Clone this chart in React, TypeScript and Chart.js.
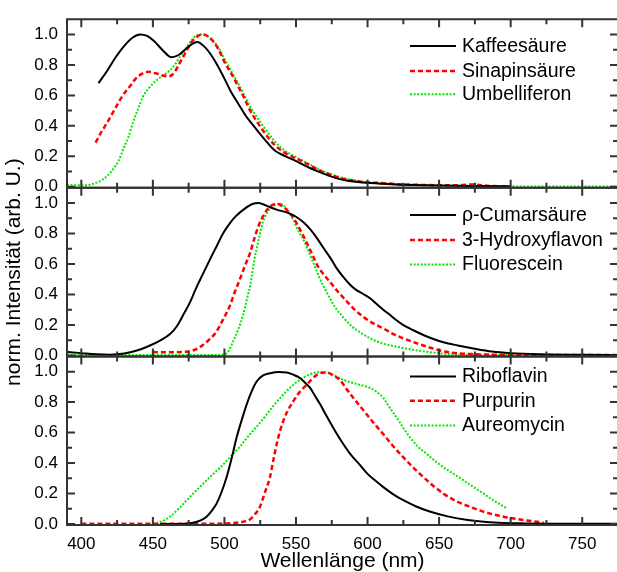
import React, { useEffect, useRef } from 'react';
import { Chart, registerables } from 'chart.js';

Chart.register(...registerables);

const FONT = "'Liberation Sans', Arial, Helvetica, sans-serif";

// ---------- axis ticks ----------
const xTickValues = [400, 450, 500, 550, 600, 650, 700, 750];
const xMinorValues = [425, 475, 525, 575, 625, 675, 725];
const yTickValues = [0, 0.2, 0.4, 0.6, 0.8, 1.0];
const yMinorValues = [0.1, 0.3, 0.5, 0.7, 0.9];
const xTitle = 'Wellenlänge (nm)';
const yTitle = 'norm. Intensität (arb. U.)';

// ---------- panel 1 ----------
const kaffeeX = [412, 418, 424, 430, 436, 441, 446, 451, 457, 463, 468, 473, 477, 481, 486, 490, 495, 500, 504, 510, 515, 520, 525, 530, 535, 540, 548, 555, 560, 567, 574, 580, 586, 593, 600, 610, 620, 640, 660, 680, 700];
const kaffeeY = [0.68, 0.76, 0.85, 0.925, 0.98, 1.0, 0.99, 0.955, 0.895, 0.85, 0.865, 0.905, 0.935, 0.95, 0.92, 0.875, 0.8, 0.71, 0.634, 0.54, 0.465, 0.405, 0.345, 0.29, 0.24, 0.212, 0.178, 0.145, 0.122, 0.095, 0.07, 0.052, 0.04, 0.032, 0.026, 0.02, 0.015, 0.01, 0.007, 0.005, 0.003];

const sinapX = [410, 414, 418, 424, 429, 434, 438, 442, 447, 452, 457, 461, 465, 468, 471, 474, 477, 481, 484, 488, 492, 496, 500, 505, 509, 514, 518, 524, 530, 535, 541, 548, 555, 560, 567, 574, 582, 590, 600, 610, 620, 640, 660, 673, 685, 700];
const sinapY = [0.29, 0.36, 0.42, 0.52, 0.6, 0.66, 0.71, 0.74, 0.755, 0.745, 0.73, 0.725, 0.75, 0.8, 0.85, 0.9, 0.95, 0.985, 1.0, 0.99, 0.955, 0.9, 0.82, 0.74, 0.67, 0.58, 0.5, 0.41, 0.33, 0.275, 0.23, 0.195, 0.165, 0.14, 0.105, 0.08, 0.055, 0.04, 0.028, 0.025, 0.017, 0.012, 0.01, 0.015, 0.006, 0.003];

const umbX = [390, 395, 400, 405, 410, 415, 419, 422, 426, 429, 433, 436, 440, 443, 447, 452, 457, 462, 466, 469, 473, 476, 480, 484, 488, 492, 496, 500, 505, 509, 514, 519, 524, 530, 535, 541, 548, 555, 560, 567, 574, 582, 590, 600, 620, 640, 660, 680, 700, 720, 750, 775];
const umbY = [0.015, 0.01, 0.01, 0.012, 0.025, 0.048, 0.08, 0.113, 0.17, 0.24, 0.33, 0.42, 0.52, 0.59, 0.645, 0.695, 0.73, 0.765, 0.81, 0.855, 0.905, 0.95, 0.99, 1.0, 0.99, 0.96, 0.91, 0.84, 0.755, 0.69, 0.6, 0.51, 0.44, 0.36, 0.3, 0.245, 0.205, 0.17, 0.145, 0.11, 0.085, 0.06, 0.045, 0.03, 0.018, 0.012, 0.008, 0.005, 0.003, 0.002, 0.002, 0.002];

// ---------- panel 2 ----------
const cumarX = [390, 400, 410, 420, 430, 440, 448, 455, 462, 467, 471, 476, 480, 485, 490, 495, 499, 504, 508, 514, 520, 524, 527, 532, 537, 543, 550, 555, 560, 565, 569, 574, 578, 583, 588, 592, 597, 602, 606, 611, 616, 620, 625, 632, 639, 646, 653, 663, 674, 687, 700, 720, 750, 775];
const cumarY = [0.022, 0.015, 0.008, 0.005, 0.012, 0.035, 0.065, 0.097, 0.14, 0.195, 0.262, 0.35, 0.437, 0.535, 0.632, 0.725, 0.8, 0.87, 0.914, 0.962, 0.995, 1.0, 0.992, 0.972, 0.955, 0.94, 0.91, 0.875, 0.827, 0.765, 0.708, 0.64, 0.578, 0.515, 0.462, 0.43, 0.403, 0.373, 0.34, 0.3, 0.264, 0.232, 0.199, 0.165, 0.134, 0.108, 0.086, 0.065, 0.045, 0.025, 0.015, 0.008, 0.004, 0.003];

const hydroX = [450, 460, 470, 474, 480, 485, 490, 494, 499, 504, 507, 511, 514, 518, 521, 524, 528, 531, 534, 537, 540, 543, 546, 550, 554, 558, 561, 565, 569, 574, 580, 586, 591, 597, 604, 611, 618, 625, 632, 639, 647, 656, 665, 675, 688, 700, 720, 750, 775];
const hydroY = [0.022, 0.02, 0.022, 0.025, 0.04, 0.069, 0.11, 0.15, 0.235, 0.33, 0.41, 0.505, 0.58, 0.675, 0.77, 0.855, 0.93, 0.97, 0.99, 0.995, 0.982, 0.96, 0.93, 0.875, 0.805, 0.73, 0.67, 0.59, 0.535, 0.48, 0.41, 0.35, 0.3, 0.253, 0.21, 0.177, 0.14, 0.112, 0.088, 0.065, 0.042, 0.022, 0.012, 0.008, 0.005, 0.004, 0.003, 0.002, 0.002];

const fluorX = [390, 420, 450, 480, 495, 500, 503, 506, 510, 513, 516, 518, 521, 523, 525, 527, 530, 534, 539, 542, 545, 548, 551, 555, 558, 562, 566, 569, 574, 578, 583, 588, 595, 602, 610, 620, 630, 640, 650, 658, 670, 700, 775];
const fluorY = [0.003, 0.002, 0.002, 0.002, 0.003, 0.006, 0.03, 0.09, 0.18, 0.264, 0.38, 0.459, 0.632, 0.72, 0.805, 0.88, 0.94, 0.978, 0.995, 0.978, 0.94, 0.892, 0.83, 0.762, 0.7, 0.61, 0.52, 0.459, 0.37, 0.307, 0.25, 0.199, 0.15, 0.112, 0.08, 0.058, 0.04, 0.026, 0.014, 0.008, 0.004, 0.002, 0.002];

// ---------- panel 3 ----------
const riboX = [455, 465, 472, 478, 483, 487.5, 491, 494.5, 498, 501.5, 505, 508.5, 512, 515.5, 519, 522.5, 527, 532, 538, 543.5, 548, 553, 556, 560, 563, 567, 571, 576, 582, 588, 594, 600, 606, 611, 618, 625, 634, 644, 656, 670, 683, 695, 710, 730, 775];
const riboY = [0, 0, 0.002, 0.008, 0.022, 0.048, 0.085, 0.134, 0.21, 0.307, 0.43, 0.567, 0.68, 0.784, 0.87, 0.935, 0.975, 0.99, 0.997, 0.995, 0.98, 0.957, 0.93, 0.892, 0.845, 0.784, 0.715, 0.632, 0.54, 0.459, 0.395, 0.329, 0.28, 0.242, 0.195, 0.156, 0.115, 0.08, 0.05, 0.026, 0.013, 0.007, 0.004, 0.002, 0.001];

const purpX = [400, 420, 440, 460, 480, 495, 502, 508.5, 513, 517.8, 521, 524.8, 528, 531.8, 534, 536.5, 539, 541.1, 544, 548.1, 552, 557.5, 561, 564.5, 568, 571.5, 576, 580.8, 585, 590.1, 595, 599.5, 605, 611.1, 618, 625.1, 632, 639.1, 646, 653.1, 662, 671.8, 683, 695.1, 710, 723];
const purpY = [0.001, 0.001, 0.001, 0.001, 0.001, 0.002, 0.004, 0.008, 0.015, 0.03, 0.06, 0.112, 0.2, 0.307, 0.41, 0.524, 0.615, 0.675, 0.74, 0.805, 0.86, 0.914, 0.95, 0.978, 0.992, 0.995, 0.975, 0.946, 0.89, 0.827, 0.77, 0.719, 0.655, 0.589, 0.51, 0.437, 0.37, 0.307, 0.25, 0.199, 0.15, 0.112, 0.075, 0.048, 0.025, 0.009];

const aureoX = [450, 455, 461.8, 468, 475.8, 483, 489.8, 497, 503.8, 511, 517.8, 524, 529.5, 535, 541.1, 547, 552.8, 558, 564.5, 569, 573.8, 578, 583.1, 588, 592.5, 597, 601.8, 606, 611.1, 615, 620.5, 625, 629.8, 635, 641.5, 647, 653.1, 660, 667.1, 674, 681.1, 688, 697];
const aureoY = [0, 0.012, 0.048, 0.1, 0.177, 0.245, 0.307, 0.37, 0.437, 0.51, 0.589, 0.655, 0.719, 0.785, 0.849, 0.905, 0.946, 0.975, 0.995, 0.997, 0.989, 0.97, 0.946, 0.93, 0.918, 0.907, 0.892, 0.87, 0.827, 0.77, 0.697, 0.63, 0.567, 0.51, 0.459, 0.415, 0.372, 0.33, 0.286, 0.243, 0.199, 0.155, 0.105];

// ---------- series labels ----------
const panel1Labels = ['Kaffeesäure', 'Sinapinsäure', 'Umbelliferon'];
const panel2Labels = ['ρ-Cumarsäure', '3-Hydroxyflavon', 'Fluorescein'];
const panel3Labels = ['Riboflavin', 'Purpurin', 'Aureomycin'];

const STYLES = [
  { color: '#000000', width: 2, dash: [] as number[] },
  { color: '#ff0000', width: 2.5, dash: [5, 3] },
  { color: '#00e800', width: 2, dash: [2, 1.6] },
];

const PANELS = ['yTop', 'yMid', 'yBot'];

const mk = (label: string, xs: number[], ys: number[], axis: string, styleIdx: number) => {
  const s = STYLES[styleIdx];
  return {
    label,
    data: xs.map((x, i) => ({ x, y: ys[i] })),
    yAxisID: axis,
    borderColor: s.color,
    backgroundColor: s.color,
    borderWidth: s.width,
    borderDash: s.dash,
    pointRadius: 0,
    fill: false,
    cubicInterpolationMode: 'monotone' as const,
  };
};

const framePlugin = {
  id: 'panelFrames',
  afterDatasetsDraw(chart: any) {
    const { ctx, chartArea, scales } = chart;
    const xs = scales.x;
    const left = chartArea.left;
    const right = chartArea.right;
    ctx.save();
    ctx.strokeStyle = '#333333';
    ctx.lineWidth = 2;
    for (const id of PANELS) {
      const ys = scales[id];
      const top = ys.top;
      const bottom = ys.bottom;
      ctx.beginPath();
      ctx.rect(left, top, right - left, bottom - top);
      for (const v of xTickValues) {
        const p = xs.getPixelForValue(v);
        ctx.moveTo(p, top); ctx.lineTo(p, top + 8);
        ctx.moveTo(p, bottom); ctx.lineTo(p, bottom - 8);
      }
      for (const v of xMinorValues) {
        const p = xs.getPixelForValue(v);
        ctx.moveTo(p, top); ctx.lineTo(p, top + 5);
        ctx.moveTo(p, bottom); ctx.lineTo(p, bottom - 5);
      }
      for (const v of yTickValues) {
        const p = ys.getPixelForValue(v);
        ctx.moveTo(left, p); ctx.lineTo(left + 8, p);
        ctx.moveTo(right, p); ctx.lineTo(right - 8, p);
      }
      for (const v of yMinorValues) {
        const p = ys.getPixelForValue(v);
        ctx.moveTo(left, p); ctx.lineTo(left + 5, p);
        ctx.moveTo(right, p); ctx.lineTo(right - 5, p);
      }
      ctx.stroke();
    }
    ctx.restore();
  },
};

const legendPlugin = {
  id: 'panelLegends',
  afterDraw(chart: any, _args: any, opts: any) {
    const { ctx, chartArea, scales } = chart;
    ctx.save();
    ctx.font = `${opts.fontSize}px ${FONT}`;
    ctx.textBaseline = 'middle';
    ctx.textAlign = 'left';
    for (const id of PANELS) {
      const ys = scales[id];
      const rows: number[] = opts.rows[id];
      const dsets = chart.data.datasets.filter((d: any) => d.yAxisID === id);
      dsets.forEach((d: any, i: number) => {
        const y = ys.top + rows[i];
        const x0 = chartArea.left + opts.lineStart;
        const x1 = chartArea.left + opts.lineEnd;
        ctx.beginPath();
        ctx.strokeStyle = d.borderColor;
        ctx.lineWidth = d.borderWidth;
        ctx.setLineDash(d.borderDash || []);
        ctx.moveTo(x0, y);
        ctx.lineTo(x1, y);
        ctx.stroke();
        ctx.setLineDash([]);
        ctx.fillStyle = '#000';
        ctx.fillText(d.label, chartArea.left + opts.textStart, y + 0.5);
      });
    }
    ctx.restore();
  },
};

const yAxis = (title: string | null) => ({
  type: 'linear' as const,
  position: 'left' as const,
  stack: 'panels',
  stackWeight: 1,
  min: -0.0065,
  max: 1.1,
  grid: { display: false, drawTicks: false, tickLength: 0 },
  border: { display: false },
  ticks: {
    font: { family: FONT, size: 17 },
    color: '#000',
    padding: 9,
    autoSkip: false,
    callback: (v: any) => Number(v).toFixed(1),
  },
  afterBuildTicks: (s: any) => { s.ticks = yTickValues.map((v) => ({ value: v })); },
  afterFit: (s: any) => { s.width = 67; },
  title: {
    display: !!title,
    text: title || '',
    font: { family: FONT, size: 21 },
    color: '#000',
    padding: { top: 2, bottom: 0 },
  },
});

export default function App() {
  const ref = useRef<HTMLCanvasElement | null>(null);
  useEffect(() => {
    document.body.style.margin = '0';
    const canvas = ref.current!;
    const datasets = [
      mk(panel1Labels[0], kaffeeX, kaffeeY, 'yTop', 0),
      mk(panel1Labels[1], sinapX, sinapY, 'yTop', 1),
      mk(panel1Labels[2], umbX, umbY, 'yTop', 2),
      mk(panel2Labels[0], cumarX, cumarY, 'yMid', 0),
      mk(panel2Labels[1], hydroX, hydroY, 'yMid', 1),
      mk(panel2Labels[2], fluorX, fluorY, 'yMid', 2),
      mk(panel3Labels[0], riboX, riboY, 'yBot', 0),
      mk(panel3Labels[1], purpX, purpY, 'yBot', 1),
      mk(panel3Labels[2], aureoX, aureoY, 'yBot', 2),
    ];
    const chart = new Chart(canvas, {
      type: 'line',
      data: { datasets },
      plugins: [framePlugin, legendPlugin],
      options: {
        responsive: false,
        animation: false,
        devicePixelRatio: 1,
        layout: { padding: { top: 15, right: 2, bottom: 0, left: 0 } },
        plugins: {
          legend: { display: false },
          tooltip: { enabled: false },
          panelLegends: {
            fontSize: 19.5,
            lineStart: 343,
            lineEnd: 389,
            textStart: 395,
            rows: { yTop: [26.7, 51.7, 75], yMid: [27.3, 52.3, 76.7], yBot: [20, 44.3, 69] },
          },
        } as any,
        scales: {
          x: {
            type: 'linear',
            position: 'bottom',
            min: 390,
            max: 775,
            grid: { display: false, drawTicks: false, tickLength: 0 },
            border: { display: false },
            ticks: {
              font: { family: FONT, size: 17 },
              color: '#000',
              padding: 9,
              maxRotation: 0,
              autoSkip: false,
              callback: (v: any) => String(v),
            },
            afterBuildTicks: (s: any) => { s.ticks = xTickValues.map((v) => ({ value: v })); },
            afterFit: (s: any) => { s.height = 47; },
            title: {
              display: true,
              text: xTitle,
              font: { family: FONT, size: 21 },
              color: '#000',
              padding: { top: 0, bottom: -2 },
            },
          },
          yBot: yAxis(null),
          yMid: yAxis(yTitle),
          yTop: yAxis(null),
        } as any,
      },
    });
    return () => chart.destroy();
  }, []);
  return (
    <div style={{ position: 'absolute', left: 0, top: 0, width: 617, height: 572, overflow: 'hidden', background: '#fff' }}>
      <canvas ref={ref} width={620} height={572} style={{ display: 'block' }} />
    </div>
  );
}
